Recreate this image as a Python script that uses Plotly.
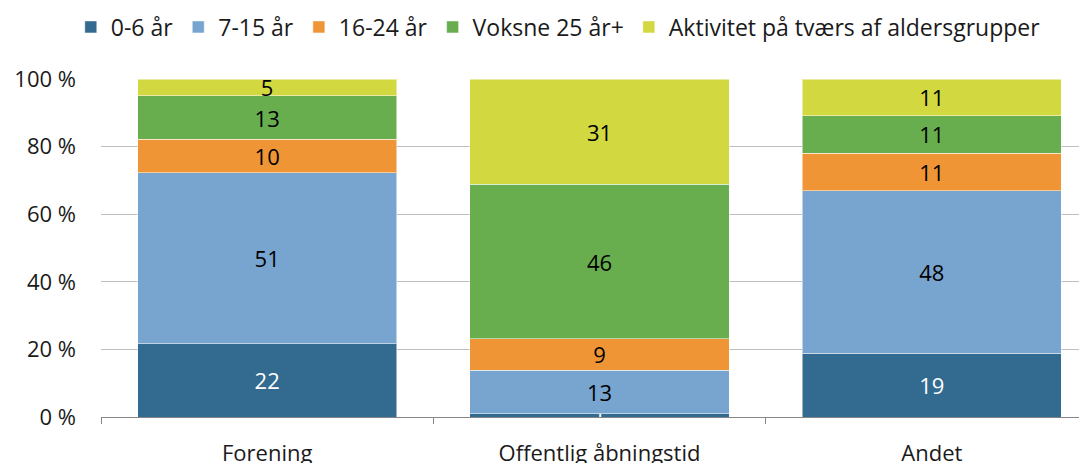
import plotly.graph_objects as go

categories = ["Forening", "Offentlig åbningstid", "Andet"]
groups = ["0-6 år", "7-15 år", "16-24 år", "Voksne 25 år+", "Aktivitet på tværs af aldersgrupper"]

age_0_6 = [21.6, 0.9, 18.9]
age_7_15 = [50.6, 13.0, 48.0]
age_16_24 = [10.0, 9.2, 11.2]
adults = [12.8, 45.8, 11.0]
across = [5.0, 31.1, 10.9]

colors = ["#336A90", "#77A5CF", "#EF9535", "#68AE4E", "#D2D840"]
text_colors = ["white", "black", "black", "black", "black"]
font = "Open Sans, sans-serif"

fig = go.Figure()
for name, vals, col, tcol in zip(groups, [age_0_6, age_7_15, age_16_24, adults, across], colors, text_colors):
    fig.add_trace(go.Bar(
        x=categories, y=vals, name=name,
        marker=dict(color=col, line=dict(color="rgba(255,255,255,0.5)", width=1)),
        text=vals, texttemplate="%{y:.0f}", textposition="inside",
        insidetextanchor="middle", textangle=0,
        insidetextfont=dict(color=tcol, size=22, family=font),
    ))

# page has an 8px body margin, so the figure is sized/offset to fit the window
fig.update_layout(
    barmode="stack", bargap=0.22,
    width=1079, height=455,
    margin=dict(l=93, r=0, t=71, b=46, autoexpand=False),
    plot_bgcolor="white", paper_bgcolor="white",
    font=dict(family=font, size=22, color="#1a1a1a"),
    uniformtext=dict(minsize=22, mode="show"),
    legend=dict(orientation="h", xref="container", x=0.51, xanchor="center",
                yref="container", y=1 - 19 / 455, yanchor="middle",
                font=dict(size=23), itemwidth=30, traceorder="normal"),
    showlegend=True,
)
fig.update_yaxes(range=[0, 100], dtick=20, ticksuffix=" %", showgrid=True,
                 gridcolor="#BFBFBF", gridwidth=1, zeroline=False, showline=False,
                 ticks="", tickfont=dict(size=22), automargin=False, ticklabelstandoff=24)
fig.update_xaxes(range=[-0.5, 2.467], showline=True, linecolor="#868686", linewidth=1,
                 ticks="outside", tickson="boundaries", ticklen=6, tickcolor="#868686",
                 tickfont=dict(size=22), automargin=False, ticklabelstandoff=17)

fig.write_html("out.html")
